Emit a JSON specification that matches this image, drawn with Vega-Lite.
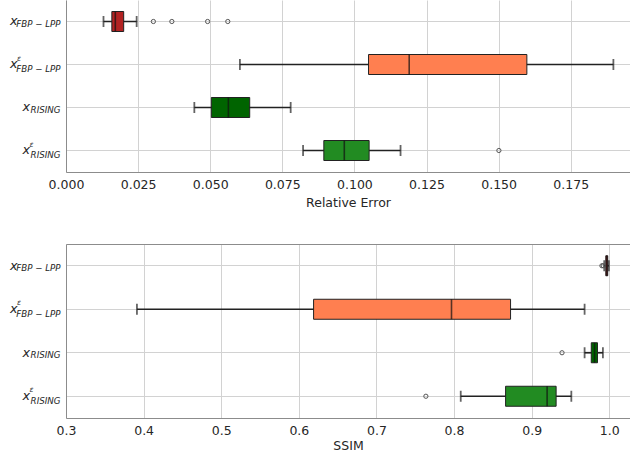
{
  "$schema": "https://vega.github.io/schema/vega-lite/v6.json",
  "padding": {"left": 9, "top": 0, "right": 0, "bottom": 0},
  "spacing": 35,
  "config": {
    "font": "DejaVu Sans",
    "view": {"stroke": null},
    "axis": {
      "labelFont": "DejaVu Sans",
      "titleFont": "DejaVu Sans",
      "labelColor": "#262626",
      "titleColor": "#262626",
      "labelFontSize": 12.5,
      "titleFontSize": 12.5,
      "titleFontWeight": "normal",
      "domainColor": "#8c8c8c",
      "domainWidth": 1,
      "gridColor": "#d2d2d2",
      "gridWidth": 1,
      "ticks": false,
      "tickSize": 0,
      "labelFlush": false
    },
    "axisY": {"title": null, "grid": false, "domain": false, "labelAlign": "right", "labelBaseline": "alphabetic", "labelFontStyle": "italic", "orient": "left"}
  },
  "datasets": {
    "re_stats": [
      {"method": "FBP-LPP", "lo": 0.0130, "q1": 0.0159, "med": 0.0171, "q3": 0.0200, "hi": 0.0245},
      {"method": "eps-FBP-LPP", "lo": 0.0603, "q1": 0.1049, "med": 0.1190, "q3": 0.1598, "hi": 0.1898},
      {"method": "RISING", "lo": 0.0445, "q1": 0.0504, "med": 0.0563, "q3": 0.0637, "hi": 0.0779},
      {"method": "eps-RISING", "lo": 0.0822, "q1": 0.0894, "med": 0.0965, "q3": 0.1051, "hi": 0.1160}
    ],
    "re_out": [
      {"method": "FBP-LPP", "value": 0.0303},
      {"method": "FBP-LPP", "value": 0.0367},
      {"method": "FBP-LPP", "value": 0.0491},
      {"method": "FBP-LPP", "value": 0.0561},
      {"method": "eps-RISING", "value": 0.1501}
    ],
    "ssim_stats": [
      {"method": "FBP-LPP", "lo": 0.9935, "q1": 0.9955, "med": 0.9968, "q3": 0.9980, "hi": 0.9995},
      {"method": "eps-FBP-LPP", "lo": 0.3914, "q1": 0.6190, "med": 0.7967, "q3": 0.8728, "hi": 0.9682},
      {"method": "RISING", "lo": 0.9682, "q1": 0.9768, "med": 0.9810, "q3": 0.9848, "hi": 0.9918},
      {"method": "eps-RISING", "lo": 0.8086, "q1": 0.8664, "med": 0.9199, "q3": 0.9315, "hi": 0.9511}
    ],
    "ssim_out": [
      {"method": "FBP-LPP", "value": 0.9905},
      {"method": "FBP-LPP", "value": 0.9922},
      {"method": "RISING", "value": 0.9391},
      {"method": "eps-RISING", "value": 0.7637}
    ]
  },
  "vconcat": [
    {
      "width": 564,
      "height": 172,
      "resolve": {"axis": {"x": "independent", "y": "independent"}},
      "layer": [
        {
          "data": {"name": "re_stats"},
          "mark": {"type": "rule", "color": "#222222", "strokeWidth": 1.7},
          "encoding": {
            "x": {"field": "lo", "type": "quantitative", "scale": {"domain": [0, 0.19556], "nice": false, "zero": false},
              "axis": {"orient": "bottom", "title": "Relative Error", "values": [0, 0.025, 0.05, 0.075, 0.1, 0.125, 0.15, 0.175], "format": ".3f", "grid": true, "domain": true, "labelPadding": 6, "titlePadding": 6}},
            "x2": {"field": "hi"},
            "y": {"field": "method", "type": "nominal", "scale": {"type": "band", "domain": ["FBP-LPP", "eps-FBP-LPP", "RISING", "eps-RISING"], "paddingInner": 0, "paddingOuter": 0},
              "axis": {"orient": "left", "grid": true, "domain": true, "labelExpr": "datum.value == 'FBP-LPP' ? 'FBP − LPP' : datum.value == 'RISING' ? 'RISING' : ''", "labelFontSize": 8.7, "labelPadding": 6, "labelOffset": 5.4}}
          }
        },
        {
          "data": {"name": "re_stats"},
          "mark": {"type": "bar", "size": 20, "stroke": "#222222", "strokeWidth": 1},
          "encoding": {
            "x": {"field": "q1", "type": "quantitative", "axis": null},
            "x2": {"field": "q3"},
            "y": {"field": "method", "type": "nominal",
              "axis": {"orient": "left", "labelExpr": "indexof(datum.value,'FBP')>=0 ? 'x' : ''", "labelFontSize": 12.8, "labelPadding": 49, "labelOffset": 3.9}},
            "color": {"field": "method", "type": "nominal", "scale": {"domain": ["FBP-LPP", "eps-FBP-LPP", "RISING", "eps-RISING"], "range": ["#b22222", "#ff7f50", "#006400", "#228b22"]}, "legend": null}
          }
        },
        {
          "data": {"name": "re_stats"},
          "mark": {"type": "tick", "color": "#111111", "thickness": 1.6, "size": 20},
          "encoding": {
            "x": {"field": "med", "type": "quantitative", "axis": null},
            "y": {"field": "method", "type": "nominal",
              "axis": {"orient": "left", "labelExpr": "indexof(datum.value,'RISING')>=0 ? 'x' : ''", "labelFontSize": 12.8, "labelPadding": 36.5, "labelOffset": 3.9}}
          }
        },
        {
          "data": {"name": "re_stats"},
          "mark": {"type": "tick", "color": "#222222", "thickness": 1.8, "size": 11},
          "encoding": {
            "x": {"field": "lo", "type": "quantitative", "axis": null},
            "y": {"field": "method", "type": "nominal",
              "axis": {"orient": "left", "labelExpr": "datum.value == 'eps-FBP-LPP' ? 'ε' : ''", "labelFontSize": 7.5, "labelPadding": 45.5, "labelOffset": -3.8}}
          }
        },
        {
          "data": {"name": "re_stats"},
          "mark": {"type": "tick", "color": "#222222", "thickness": 1.8, "size": 11},
          "encoding": {
            "x": {"field": "hi", "type": "quantitative", "axis": null},
            "y": {"field": "method", "type": "nominal",
              "axis": {"orient": "left", "labelExpr": "datum.value == 'eps-RISING' ? 'ε' : ''", "labelFontSize": 7.5, "labelPadding": 33, "labelOffset": -3.8}}
          }
        },
        {
          "data": {"name": "re_out"},
          "mark": {"type": "point", "filled": false, "color": "#555555", "size": 18, "strokeWidth": 1, "opacity": 1},
          "encoding": {
            "x": {"field": "value", "type": "quantitative", "axis": null},
            "y": {"field": "method", "type": "nominal",
              "axis": {"orient": "left", "labelExpr": "datum.value == 'eps-FBP-LPP' ? 'FBP − LPP' : datum.value == 'eps-RISING' ? 'RISING' : ''", "labelFontSize": 8.7, "labelPadding": 6, "labelOffset": 7.6}}
          }
        }
      ]
    },
    {
      "width": 564,
      "height": 174,
      "resolve": {"axis": {"x": "independent", "y": "independent"}},
      "layer": [
        {
          "data": {"name": "ssim_stats"},
          "mark": {"type": "rule", "color": "#222222", "strokeWidth": 1.7},
          "encoding": {
            "x": {"field": "lo", "type": "quantitative", "scale": {"domain": [0.3, 1.0267], "nice": false, "zero": false},
              "axis": {"orient": "bottom", "title": "SSIM", "values": [0.3, 0.4, 0.5, 0.6, 0.7, 0.8, 0.9, 1.0], "format": ".1f", "grid": true, "domain": true, "labelPadding": 6, "titlePadding": 3}},
            "x2": {"field": "hi"},
            "y": {"field": "method", "type": "nominal", "scale": {"type": "band", "domain": ["FBP-LPP", "eps-FBP-LPP", "RISING", "eps-RISING"], "paddingInner": 0, "paddingOuter": 0},
              "axis": {"orient": "left", "grid": true, "domain": true, "labelExpr": "datum.value == 'FBP-LPP' ? 'FBP − LPP' : datum.value == 'RISING' ? 'RISING' : ''", "labelFontSize": 8.7, "labelPadding": 6, "labelOffset": 5.4}}
          }
        },
        {
          "data": {"name": "ssim_stats"},
          "mark": {"type": "bar", "size": 20, "stroke": "#222222", "strokeWidth": 1},
          "encoding": {
            "x": {"field": "q1", "type": "quantitative", "axis": null},
            "x2": {"field": "q3"},
            "y": {"field": "method", "type": "nominal",
              "axis": {"orient": "left", "labelExpr": "indexof(datum.value,'FBP')>=0 ? 'x' : ''", "labelFontSize": 12.8, "labelPadding": 49, "labelOffset": 3.9}},
            "color": {"field": "method", "type": "nominal", "scale": {"domain": ["FBP-LPP", "eps-FBP-LPP", "RISING", "eps-RISING"], "range": ["#b22222", "#ff7f50", "#006400", "#228b22"]}, "legend": null}
          }
        },
        {
          "data": {"name": "ssim_stats"},
          "mark": {"type": "tick", "color": "#111111", "thickness": 1.6, "size": 20},
          "encoding": {
            "x": {"field": "med", "type": "quantitative", "axis": null},
            "y": {"field": "method", "type": "nominal",
              "axis": {"orient": "left", "labelExpr": "indexof(datum.value,'RISING')>=0 ? 'x' : ''", "labelFontSize": 12.8, "labelPadding": 36.5, "labelOffset": 3.9}}
          }
        },
        {
          "data": {"name": "ssim_stats"},
          "mark": {"type": "tick", "color": "#222222", "thickness": 1.8, "size": 11},
          "encoding": {
            "x": {"field": "lo", "type": "quantitative", "axis": {"orient": "top", "title": null, "labels": false, "grid": false, "domain": true}},
            "y": {"field": "method", "type": "nominal",
              "axis": {"orient": "left", "labelExpr": "datum.value == 'eps-FBP-LPP' ? 'ε' : ''", "labelFontSize": 7.5, "labelPadding": 45.5, "labelOffset": -3.8}}
          }
        },
        {
          "data": {"name": "ssim_stats"},
          "mark": {"type": "tick", "color": "#222222", "thickness": 1.8, "size": 11},
          "encoding": {
            "x": {"field": "hi", "type": "quantitative", "axis": null},
            "y": {"field": "method", "type": "nominal",
              "axis": {"orient": "left", "labelExpr": "datum.value == 'eps-RISING' ? 'ε' : ''", "labelFontSize": 7.5, "labelPadding": 33, "labelOffset": -3.8}}
          }
        },
        {
          "data": {"name": "ssim_out"},
          "mark": {"type": "point", "filled": false, "color": "#555555", "size": 18, "strokeWidth": 1, "opacity": 1},
          "encoding": {
            "x": {"field": "value", "type": "quantitative", "axis": null},
            "y": {"field": "method", "type": "nominal",
              "axis": {"orient": "left", "labelExpr": "datum.value == 'eps-FBP-LPP' ? 'FBP − LPP' : datum.value == 'eps-RISING' ? 'RISING' : ''", "labelFontSize": 8.7, "labelPadding": 6, "labelOffset": 7.6}}
          }
        }
      ]
    }
  ]
}
